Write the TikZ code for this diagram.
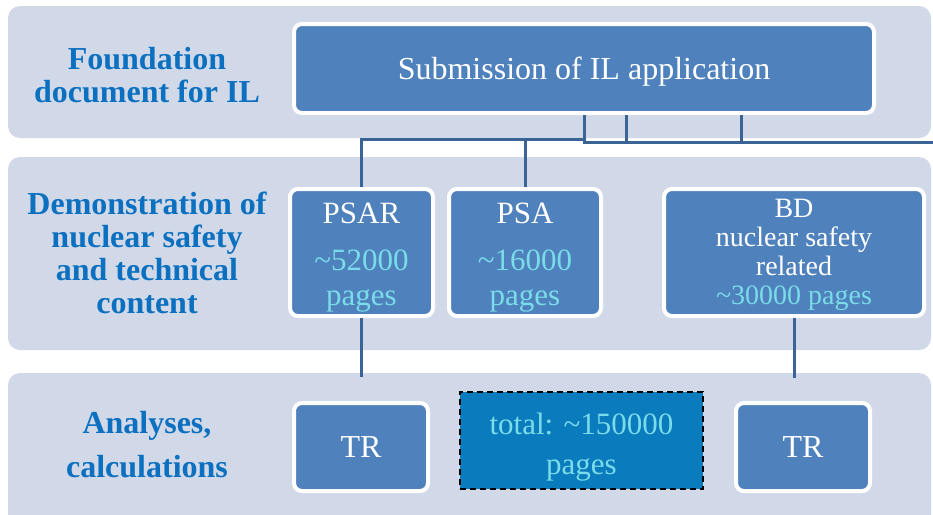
\documentclass[tikz,border=0pt]{standalone}
\usepackage{fontspec}
\setmainfont{Liberation Serif}
\definecolor{bandc}{HTML}{D1D8E7}
\definecolor{boxc}{HTML}{4F81BD}
\definecolor{connc}{HTML}{3A6496}
\definecolor{labc}{HTML}{0B70C0}
\definecolor{cyanc}{HTML}{7ADCE8}
\definecolor{totc}{HTML}{0A7BBD}
\tikzset{
  band/.style={fill=bandc, draw=none, rounded corners=12pt},
  bluebox/.style={fill=boxc, draw=white, line width=4pt, rounded corners=8pt,
    text=white, align=center, inner sep=0pt},
  totbox/.style={fill=totc, draw=black, dash pattern=on 6pt off 4pt, line width=1.6pt,
    text=cyanc, align=center, inner sep=0pt},
  conn/.style={draw=connc, line width=3pt},
  lab/.style={text=labc, align=center, font=\bfseries\fontsize{32}{33}\selectfont},
  bigtxt/.style={font=\fontsize{31}{35}\selectfont},
}
\begin{document}
\begin{tikzpicture}[x=1pt,y=-1pt]
\useasboundingbox (0,0) rectangle (933,514);
% bands
\fill[band] (8,6) rectangle (931,138);
\fill[band] (8,157) rectangle (931,350);
\fill[band] (8,373) rectangle (931,530);
% left labels
\node[lab] (l1) at (147,75) {Foundation\\document for IL};
\node[lab] (l2) at (147,253) {Demonstration of\\nuclear safety\\and technical\\content};
\node[lab, font=\bfseries\fontsize{32}{44}\selectfont] (l3) at (147,445) {Analyses,\\calculations};
% boxes
\node[bluebox, font=\fontsize{32}{35}\selectfont, text height=24pt, text depth=3pt,
  minimum width=580pt, minimum height=89pt] (sub) at (584,68.5) {Submission of IL application};
\node[bluebox, bigtxt, minimum width=143pt, minimum height=127pt] (psar) at (361.5,252.5)
  {\rule{0pt}{30pt}PSAR\\[12pt]\textcolor{cyanc}{\textasciitilde52000}\\\textcolor{cyanc}{pages}};
\node[bluebox, bigtxt, minimum width=152pt, minimum height=127pt] (psa) at (525,252.5)
  {\rule{0pt}{30pt}PSA\\[12pt]\textcolor{cyanc}{\textasciitilde16000}\\\textcolor{cyanc}{pages}};
\node[bluebox, font=\fontsize{28}{29}\selectfont, minimum width=260pt, minimum height=127pt] (bd) at (794,252.5)
  {\rule{0pt}{24pt}BD\\nuclear safety\\related\\\textcolor{cyanc}{\textasciitilde30000 pages}};
\node[bluebox, font=\fontsize{32}{35}\selectfont, minimum width=134pt, minimum height=88pt] (tr1) at (361,447) {TR};
\node[bluebox, font=\fontsize{32}{35}\selectfont, minimum width=134pt, minimum height=88pt] (tr2) at (803,447) {TR};
\node[totbox, font=\fontsize{31}{40}\selectfont, minimum width=243pt, minimum height=97pt] (tot) at (581.5,440.5)
  {\rule{0pt}{34pt}total: \textasciitilde150000\\pages};
% connector junctions
\coordinate (c1) at (584,142);
\coordinate (c2) at (626,142);
\coordinate (c3) at (741,142);
\coordinate (cR) at (933,142);
\coordinate (c0) at (584,139);
\coordinate (d1) at (361,377);
\coordinate (d2) at (794,378);
% connectors
\draw[conn] (c1 |- sub.south) -- (c1);
\draw[conn] (c2 |- sub.south) -- (c2);
\draw[conn] (c3 |- sub.south) -- (c3);
\draw[conn] ([xshift=-1.5pt]c1) -- (cR);
\draw[conn] (psar.north) -- (psar.north |- c0) -- ([xshift=1.5pt]c0);
\draw[conn] (psa.north) -- (psa.north |- c0);
\draw[conn] (psar.south) -- (psar.south |- d1);
\draw[conn] (bd.south) -- (bd.south |- d2);
\end{tikzpicture}
\end{document}
